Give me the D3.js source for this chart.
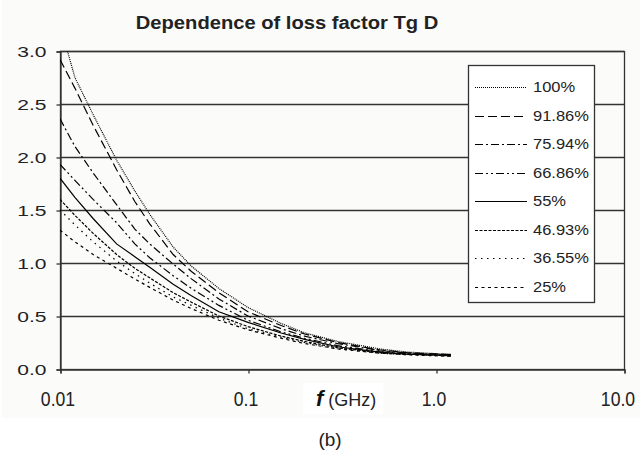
<!DOCTYPE html>
<html>
<head>
<meta charset="utf-8">
<script src="https://cdn.jsdelivr.net/npm/d3@7"></script>
<style>
  body { margin: 0; background: #fff; }
  text { font-family: "Liberation Sans", Arial, sans-serif; fill: #222; }
</style>
</head>
<body>
<div id="vis"></div>
<script>

// frequencies (GHz) at which each curve was read
var freqs = [0.01, 0.012, 0.015, 0.02, 0.025, 0.03, 0.04, 0.05, 0.07, 0.1, 0.15, 0.2, 0.3, 0.5, 0.7, 1.0, 1.2];

var seriesNames = ['100%', '91.86%', '75.94%', '66.86%', '55%', '46.93%', '36.55%', '25%'];

var s100  = [3.25, 2.75, 2.40, 1.97, 1.68, 1.46, 1.15, 0.97, 0.76, 0.58, 0.43, 0.34, 0.26, 0.19, 0.16, 0.145, 0.14];
var s9186 = [2.92, 2.65, 2.30, 1.88, 1.58, 1.37, 1.08, 0.92, 0.72, 0.54, 0.41, 0.33, 0.25, 0.18, 0.155, 0.14, 0.135];
var s7594 = [2.36, 2.10, 1.85, 1.55, 1.32, 1.18, 0.99, 0.85, 0.66, 0.50, 0.38, 0.31, 0.24, 0.175, 0.15, 0.14, 0.135];
var s6686 = [1.93, 1.78, 1.60, 1.38, 1.18, 1.05, 0.88, 0.76, 0.60, 0.46, 0.35, 0.29, 0.22, 0.165, 0.145, 0.135, 0.13];
var s55   = [1.80, 1.62, 1.42, 1.18, 1.06, 0.96, 0.80, 0.69, 0.54, 0.44, 0.34, 0.28, 0.21, 0.16, 0.14, 0.13, 0.13];
var s4693 = [1.60, 1.45, 1.28, 1.08, 0.95, 0.86, 0.72, 0.63, 0.50, 0.40, 0.31, 0.26, 0.20, 0.155, 0.14, 0.13, 0.125];
var s3655 = [1.50, 1.36, 1.20, 1.02, 0.90, 0.81, 0.68, 0.60, 0.48, 0.38, 0.30, 0.25, 0.19, 0.15, 0.135, 0.125, 0.12];
var s25   = [1.31, 1.20, 1.08, 0.95, 0.85, 0.77, 0.65, 0.57, 0.46, 0.37, 0.29, 0.24, 0.19, 0.15, 0.135, 0.125, 0.12];

var seriesValues = [s100, s9186, s7594, s6686, s55, s4693, s3655, s25];

var yTicks = [0, 0.5, 1.0, 1.5, 2.0, 2.5, 3.0];
var xTicks = [0.01, 0.1, 1, 10];
var xTickLabels = ['0.01', '0.1', '1.0', '10.0'];

// line styles per series, same order as seriesNames
var dashes = ['1,1', '9,4', '8,3,2,3', '8,3,2,3,2,3', null, '3,1.5', '1.5,4.5', '3,3.5'];

var width = 642, height = 453;
var plot = { left: 60, right: 624, top: 51, bottom: 369 };

// the source picture renders its text wider (or narrower) than the font, stretch to match
function widen(sel, k) {
  sel.each(function () {
    var len = this.getComputedTextLength();
    d3.select(this)
      .attr('textLength', len * k)
      .attr('lengthAdjust', 'spacingAndGlyphs');
  });
}

var svg = d3.select('#vis')
  .append('svg')
  .attr('width', width)
  .attr('height', height);

// faint chart-area background
svg.append('rect')
  .attr('x', 2).attr('y', 0)
  .attr('width', 638).attr('height', 418)
  .attr('fill', '#fbfbf9');

var x = d3.scaleLog()
  .domain([0.01, 10])
  .range([plot.left, plot.right]);

var y = d3.scaleLinear()
  .domain([0, 3])
  .range([plot.bottom, plot.top]);

svg.append('text')
  .attr('x', 287)
  .attr('y', 29)
  .attr('text-anchor', 'middle')
  .style('font-size', '18px')
  .style('font-weight', 'bold')
  .attr('fill', '#111')
  .text('Dependence of loss factor Tg D')
  .call(widen, 1.12);

// gridlines
svg.append('g')
  .selectAll('line')
  .data(yTicks.slice(1))
  .enter().append('line')
  .attr('x1', plot.left).attr('x2', plot.right)
  .attr('y1', function (d) { return Math.round(y(d)) + 0.5; })
  .attr('y2', function (d) { return Math.round(y(d)) + 0.5; })
  .attr('stroke', '#333')
  .attr('stroke-width', 1.3);

svg.append('rect')
  .attr('x', plot.left + 0.5).attr('y', plot.top + 0.5)
  .attr('width', plot.right - plot.left).attr('height', plot.bottom - plot.top)
  .attr('fill', 'none')
  .attr('stroke', '#333')
  .attr('stroke-width', 1.3);

var yAxis = svg.append('g')
  .attr('transform', 'translate(' + (plot.left + 0.5) + ',0.5)')
  .call(d3.axisLeft(y).tickValues(yTicks).tickFormat(d3.format('.1f')).tickSize(4).tickPadding(10));

var xAxis = svg.append('g')
  .attr('transform', 'translate(0.5,' + (plot.bottom + 0.5) + ')')
  .call(d3.axisBottom(x).tickValues(xTicks)
    .tickFormat(function (d, i) { return xTickLabels[i]; })
    .tickSize(4).tickPadding(18));

[yAxis, xAxis].forEach(function (a) {
  a.select('.domain').attr('stroke', '#333').attr('stroke-width', 1.3);
  a.selectAll('.tick line').attr('stroke', '#333').attr('stroke-width', 1.3);
  a.selectAll('.tick text')
    .style('font-family', '"Liberation Sans", Arial, sans-serif')
    .attr('fill', '#2a2a2a');
});

yAxis.selectAll('.tick text')
  .style('font-size', '15px')
  .call(widen, 1.4);

xAxis.selectAll('.tick text')
  .style('font-size', '20px')
  .attr('dx', function (d, i) { return i === xTicks.length - 1 ? -7 : -3; })
  .call(widen, 0.88);

svg.append('clipPath')
  .attr('id', 'plotClip')
  .append('rect')
  .attr('x', plot.left).attr('y', plot.top)
  .attr('width', plot.right - plot.left).attr('height', plot.bottom - plot.top);

var line = d3.line()
  .x(function (d) { return x(d.f); })
  .y(function (d) { return y(d.v); });

svg.append('g')
  .attr('clip-path', 'url(#plotClip)')
  .selectAll('path')
  .data(seriesValues)
  .enter().append('path')
  .attr('d', function (vals) {
    return line(vals.map(function (v, i) { return { f: freqs[i], v: v }; }));
  })
  .attr('fill', 'none')
  .attr('stroke', '#000')
  .attr('stroke-width', 1.2)
  .attr('stroke-dasharray', function (d, i) { return dashes[i]; });

// legend
var legend = svg.append('g');

legend.append('rect')
  .attr('x', 468.5).attr('y', 65.5)
  .attr('width', 126).attr('height', 237)
  .attr('fill', '#fff')
  .attr('stroke', '#333')
  .attr('stroke-width', 1.3);

var items = legend.selectAll('.item')
  .data(seriesNames)
  .enter().append('g')
  .attr('class', 'item')
  .attr('transform', function (d, i) { return 'translate(0,' + Math.round(87 + i * 28.5) + ')'; });

items.append('line')
  .attr('x1', 475).attr('x2', 527)
  .attr('y1', 0.5).attr('y2', 0.5)
  .attr('stroke', '#000')
  .attr('stroke-width', 1.2)
  .attr('stroke-dasharray', function (d, i) { return dashes[i]; });

items.append('text')
  .attr('x', 533)
  .attr('dy', '0.36em')
  .style('font-size', '15px')
  .attr('fill', '#1a1a1a')
  .text(function (d) { return d; })
  .call(widen, 1.1);

// axis title sits on its own white box
var ft = svg.append('g').attr('transform', 'translate(303,383)');
ft.append('rect').attr('width', 80).attr('height', 31).attr('fill', '#fff');
var ftText = ft.append('text').attr('x', 13).attr('y', 23);
ftText.append('tspan')
  .style('font-size', '22px')
  .style('font-weight', 'bold')
  .style('font-style', 'italic')
  .attr('fill', '#111')
  .text('f');
ftText.append('tspan')
  .attr('dx', 5)
  .style('font-size', '18px')
  .attr('fill', '#222')
  .text('(GHz)');

svg.append('text')
  .attr('x', 330)
  .attr('y', 446)
  .attr('text-anchor', 'middle')
  .style('font-size', '19px')
  .attr('fill', '#222')
  .text('(b)');

</script>
</body>
</html>
